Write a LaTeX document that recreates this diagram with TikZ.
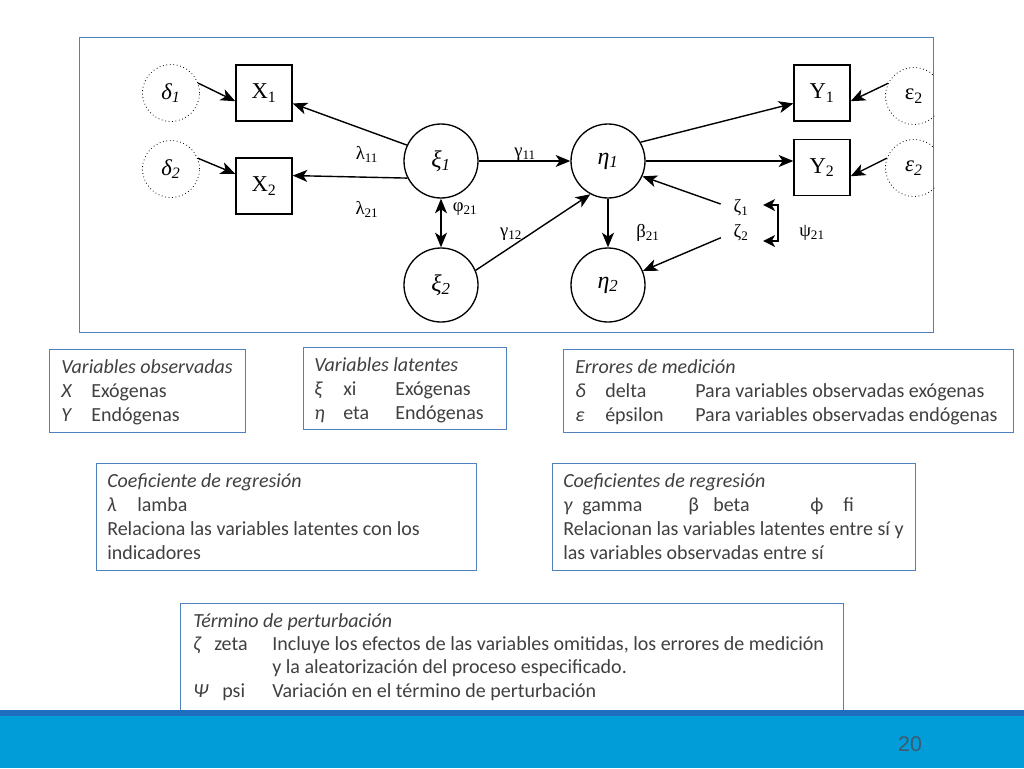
\documentclass[tikz,border=0pt]{standalone}
\usepackage{fontspec}
\setmainfont{Carlito}
\newfontfamily\tms{Liberation Serif}
\newfontfamily\lgf{Carlito}
\newfontfamily\numf{Liberation Sans}
\usetikzlibrary{arrows.meta,calc}
\definecolor{boxblue}{RGB}{79,129,189}
\definecolor{txtgray}{RGB}{64,64,64}
\definecolor{barblue}{RGB}{0,157,217}
\definecolor{bardark}{RGB}{30,110,192}
\definecolor{numcol}{RGB}{65,88,110}
\tikzset{
 frm/.style={draw=boxblue,line width=1.1pt,rectangle,inner sep=0,anchor=north west},
 lgbox/.style={draw=boxblue,line width=0.9pt,rectangle,inner sep=0,anchor=north west},
 obs/.style={draw,line width=1pt,minimum size=42pt,inner sep=0,font=\tms\fontsize{17}{17}\selectfont},
 lat/.style={circle,draw,line width=1pt,minimum size=55.5pt,inner sep=0,font=\tms\itshape\fontsize{18}{18}\selectfont},
 err/.style={circle,draw,dotted,line width=0.6pt,minimum size=42.75pt,inner sep=0,font=\tms\fontsize{17}{17}\selectfont},
 arr/.style={-{Stealth[length=11pt,width=9pt,inset=3pt]},line width=1.05pt},
 darr/.style={{Stealth[length=11pt,width=9pt,inset=3pt]}-{Stealth[length=11pt,width=9pt,inset=3pt]},line width=1.05pt},
 brk/.style={{Stealth[length=9pt,width=9pt,inset=2.5pt]}-{Stealth[length=9pt,width=9pt,inset=2.5pt]},line width=1.05pt},
 coef/.style={font=\tms\fontsize{14}{14}\selectfont,inner sep=1pt},
 lt/.style={anchor=base west,inner sep=0,text=txtgray,font=\lgf\fontsize{15}{18}\selectfont},
 lti/.style={anchor=base west,inner sep=0,text=txtgray,font=\lgf\itshape\fontsize{15}{18}\selectfont},
}
\begin{document}
\begin{tikzpicture}[x=0.75pt,y=-0.75pt]
\useasboundingbox (0,0) rectangle (1024,768);
\fill[white] (0,0) rectangle (1024,768);

% diagram frame
\node[frm,minimum width=640.5pt,minimum height=221.25pt] (frame) at (79,37) {};

% observed variables
\node[obs] (X1) at (264,93) {X\textsubscript{1}};
\node[obs] (X2) at (264,186) {X\textsubscript{2}};
\node[obs] (Y1) at (822,93) {Y\textsubscript{1}};
\node[obs] (Y2) at (822,167.5) {Y\textsubscript{2}};
% errors
\node[err] (d1) at (171,93) {\itshape δ\textsubscript{1}};
\node[err] (d2) at (171,169) {\itshape δ\textsubscript{2}};
\begin{scope}
\clip (frame.north west) rectangle (frame.south east);
\node[err] (e1) at (914,96) {ε\textsubscript{2}};
\node[err] (e2) at (914,168) {\itshape ε\textsubscript{2}};
\end{scope}
% latent
\node[lat] (xi1) at (441,161) {ξ\textsubscript{1}};
\node[lat] (xi2) at (441,285) {ξ\textsubscript{2}};
\node[lat] (eta1) at (608,161) {η\textsubscript{1}};
\node[lat] (eta2) at (608,285) {η\textsubscript{2}};

% coefficient labels
\node[coef] (l11) at (367,154) {λ\textsubscript{11}};
\node[coef] (l21) at (367,209) {λ\textsubscript{21}};
\node[coef] (p21) at (465,209) {φ\textsubscript{21}};
\node[coef] (g11) at (525,154) {γ\textsubscript{11}};
\node[coef] (g12) at (511,234) {γ\textsubscript{12}};
\node[coef] (b21) at (648,233) {β\textsubscript{21}};
\node[coef] (z1) at (741,208) {ζ\textsubscript{1}};
\node[coef] (z2) at (741,233) {ζ\textsubscript{2}};
\node[coef] (ps) at (812,233) {ψ\textsubscript{21}};

% connectors
\draw[arr] (d1.20) -- (X1.196);
\draw[arr] (d2.22) -- (X2.157);
\draw[arr] (xi1.155) -- (X1.-20);
\draw[arr] (xi1.207) -- (X2.20);
\draw[arr] (xi1) -- (eta1);
\draw[darr] (xi1) -- (xi2);
\draw[arr] (xi2.23) -- (eta1.242);
\draw[arr] (eta1.30) -- (Y1.200);
\draw[arr] (eta1.east) -- (eta1.east -| Y2.west);
\draw[arr] (eta1) -- (eta2);
\draw[arr,shorten <=9pt] (z1.west) -- (eta1.-24);
\draw[arr,shorten <=9pt] (z2.west) -- (eta2.22);
\draw[arr] (e1.154) -- (Y1.-16);
\draw[arr] (e2.160) -- (Y2.-17);
\coordinate (bt) at ($(z1.east)+(28,-3)$);
\coordinate (bb) at ($(z2.east)+(28,8)$);
\draw[brk] ($(z1.east)+(13,-3)$) -- (bt) -- (bb) -- ($(z2.east)+(13,8)$);

% legend boxes
\node[lgbox,minimum width=147pt,minimum height=62.25pt] (b1) at (49,349) {};
\node[lgbox,minimum width=152.25pt,minimum height=61.5pt] (b2) at (303,347) {};
\node[lgbox,minimum width=285pt,minimum height=80.25pt] (b3) at (96,463) {};
\node[lgbox,minimum width=337.5pt,minimum height=62.25pt] (b4) at (563,349) {};
\node[lgbox,minimum width=272.25pt,minimum height=80.25pt] (b5) at (552,463) {};
\node[lgbox,minimum width=497.25pt,minimum height=84pt] (b6) at (180,603) {};

% box 1
\node[lti] (t1) at (61,373) {Variables observadas};
\node[lti] (t1x) at (61,397) {X};
\node[lt] (t1xe) at (91,397) {Exógenas};
\node[lti] (t1y) at (61,421) {Y};
\node[lt] (t1ye) at (91,421) {Endógenas};
% box 2
\node[lti] (t2) at (314,371) {Variables latentes};
\node[lti] (t2a) at (314,395) {ξ};
\node[lt] (t2b) at (343,395) {xi};
\node[lt] (t2c) at (395,395) {Exógenas};
\node[lti] (t2d) at (314,419) {η};
\node[lt] (t2e) at (343,419) {eta};
\node[lt] (t2f) at (395,419) {Endógenas};
% box 3
\node[lti] (t3) at (107,487) {Coeficiente de regresión};
\node[lti] (t3a) at (107,511) {λ};
\node[lt] (t3b) at (137,511) {lamba};
\node[lt] (t3c) at (107,535) {Relaciona las variables latentes con los};
\node[lt] (t3d) at (107,559) {indicadores};
% box 4
\node[lti] (t4) at (575,373) {Errores de medición};
\node[lti] (t4a) at (575,397) {δ};
\node[lt] (t4b) at (605,397) {delta};
\node[lt] (t4c) at (695,397) {Para variables observadas exógenas};
\node[lti] (t4d) at (575,421) {ε};
\node[lt] (t4e) at (605,421) {épsilon};
\node[lt] (t4f) at (695,421) {Para variables observadas endógenas};
% box 5
\node[lti] (t5) at (563,487) {Coeficientes de regresión};
\node[lti] (t5a) at (563,511) {γ};
\node[lt] (t5b) at (582,511) {gamma};
\node[lt] (t5c) at (688,511) {β};
\node[lt] (t5d) at (713,511) {beta};
\node[lt] (t5e) at (810,511) {ϕ};
\node[lt] (t5f) at (843,511) {fi};
\node[lt] (t5g) at (563,535) {Relacionan las variables latentes entre sí y};
\node[lt] (t5h) at (563,559) {las variables observadas entre sí};
% box 6
\node[lti] (t6) at (193,627) {Término de perturbación};
\node[lti] (t6a) at (193,650) {ζ};
\node[lt] (t6b) at (214,650) {zeta};
\node[lt] (t6c) at (272,650) {Incluye los efectos de las variables omitidas, los errores de medición};
\node[lt] (t6d) at (272,673) {y la aleatorización del proceso especificado.};
\node[lti] (t6e) at (193,697) {Ψ};
\node[lt] (t6f) at (222,697) {psi};
\node[lt] (t6g) at (272,697) {Variación en el término de perturbación};

% bottom bar
\fill[bardark] (0,710) rectangle (1024,716);
\fill[barblue] (0,716) rectangle (1024,768);
\node[text=numcol,font=\numf\fontsize{16}{16}\selectfont,inner sep=0] (pg) at (910,744) {20};
\end{tikzpicture}
\end{document}
